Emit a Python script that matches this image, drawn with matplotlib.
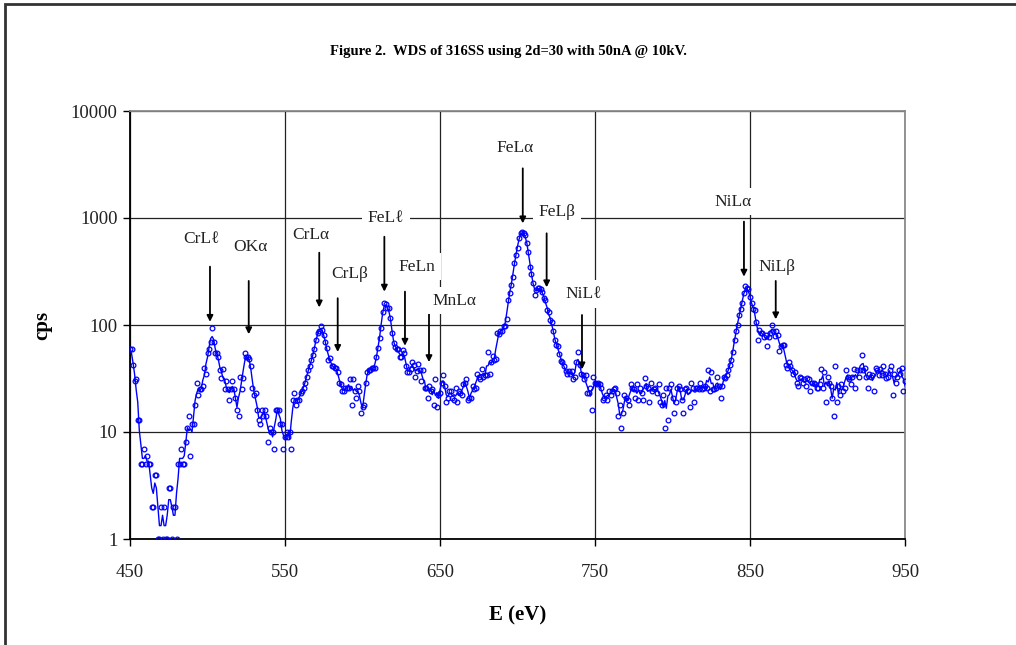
"""
plot.py: WDS spectrum of 316SS (2d=30, 50nA @ 10kV), log count rate vs energy.
Open circles are the measured points, the line is a short moving average.
"""

import numpy as np
import pandas as pd
import matplotlib
matplotlib.use("Agg")
import matplotlib.pyplot as plt
from matplotlib.patches import Rectangle
from matplotlib.ticker import NullLocator

plt.rcParams["font.family"] = ["Liberation Serif", "DejaVu Serif"]

# scan starts at 450 eV, 1 eV per step
E_START = 450

cps_450 = [
    60, 60, 42, 30, 31, 13, 13, 5, 5, 7,
    5, 6, 5, 5, 2, 2, 4, 4, 1, 1,
    2, 1, 2, 1, 1, 3, 3, 1, 2, 2,
    1, 5, 5, 7, 5, 5, 8, 11, 14, 6,
    12, 12, 18, 29, 22, 25, 25, 27, 40, 35,
    55, 60, 70, 94, 70, 55, 55, 50, 38, 32,
    39, 25, 30, 25, 20, 25, 30, 25, 21, 16,
    14, 33, 25, 32, 55, 50, 50, 48, 41, 26,
    22, 23, 16, 13, 12, 16, 14, 16, 14, 8,
    11, 10, 10, 7, 16, 16, 16, 12, 12, 7,
]
cps_550 = [
    9, 10, 9, 10, 7, 20, 23, 18, 20, 20,
    23, 24, 26, 29, 33, 38, 41, 47, 52, 60,
    72, 85, 87, 98, 90, 80, 69, 61, 47, 49,
    41, 41, 40, 40, 36, 29, 28, 24, 24, 26,
    26, 26, 31, 18, 31, 24, 21, 27, 24, 15,
    17, 18, 29, 36, 38, 38, 40, 40, 40, 50,
    61, 75, 93, 133, 161, 157, 144, 144, 116, 84,
    68, 62, 60, 60, 50, 50, 58, 55, 41, 36,
    36, 39, 45, 42, 33, 37, 43, 38, 30, 38,
    26, 26, 21, 27, 24, 25, 18, 31, 17, 22,
]
cps_650 = [
    23, 29, 34, 27, 19, 21, 24, 24, 21, 20,
    26, 19, 24, 23, 22, 28, 29, 31, 20, 21,
    21, 27, 25, 26, 35, 33, 31, 39, 33, 34,
    34, 56, 35, 45, 51, 47, 48, 84, 82, 87,
    87, 98, 98, 115, 171, 200, 236, 283, 377, 450,
    530, 650, 719, 745, 719, 693, 580, 484, 351, 300,
    249, 190, 212, 220, 220, 216, 205, 177, 171, 138,
    133, 111, 107, 87, 72, 65, 63, 54, 46, 45,
    41, 37, 35, 37, 35, 37, 31, 33, 45, 56,
    42, 35, 34, 31, 34, 23, 23, 26, 16, 33,
]
cps_750 = [
    29, 28, 29, 28, 26, 20, 21, 22, 20, 24,
    22, 24, 25, 26, 23, 14, 18, 11, 15, 22,
    21, 20, 18, 28, 26, 25, 21, 28, 20, 26,
    23, 20, 32, 27, 26, 19, 29, 24, 25, 26,
    23, 28, 19, 18, 22, 11, 26, 13, 26, 28,
    21, 15, 19, 26, 27, 25, 20, 15, 25, 26,
    24, 17, 29, 26, 19, 26, 26, 25, 29, 25,
    26, 27, 26, 38, 24, 36, 25, 25, 26, 33,
    27, 21, 27, 33, 32, 34, 38, 42, 47, 56,
    72, 87, 100, 124, 140, 160, 198, 231, 220, 216,
]
cps_850 = [
    181, 160, 140, 138, 107, 72, 90, 84, 85, 77,
    81, 64, 77, 85, 100, 88, 79, 88, 81, 57,
    64, 65, 65, 42, 40, 45, 41, 38, 35, 36,
    29, 27, 33, 32, 29, 31, 27, 32, 31, 24,
    29, 29, 28, 26, 26, 28, 39, 26, 36, 19,
    33, 29, 27, 21, 14, 41, 19, 27, 22, 28,
    24, 26, 38, 33, 31, 28, 33, 39, 26, 38,
    33, 38, 53, 38, 40, 33, 26, 35, 33, 34,
    24, 40, 38, 34, 39, 34, 41, 35, 32, 33,
    38, 41, 22, 35, 29, 33, 38, 35, 40, 24, 30,
]

# peak labels and their arrows (energy in eV, heights in cps)
peak_names = ["CrL\u2113", "OK\u03b1", "CrL\u03b1", "CrL\u03b2", "FeL\u2113", "FeLn",
              "MnL\u03b1", "FeL\u03b1", "FeL\u03b2", "NiL\u2113", "NiL\u03b1", "NiL\u03b2"]
label_e = [496.3, 527.4, 566.5, 591.9, 615.2, 635.0, 659.0, 698.4, 725.7, 742.5, 839.2, 867.6]
label_cps = [632, 540, 690, 300, 1000, 351, 168, 4480, 1130, 195, 1420, 351]
arrow_e = [501.6, 526.6, 572.1, 584.0, 614.1, 627.4, 642.9, 703.4, 718.8, 741.6, 846.1, 866.6]
arrow_from = [351, 258, 474, 178, 668, 205, 146, 2911, 719, 124, 925, 258]
arrow_to = [107, 82, 146, 56, 205, 64, 45, 891, 225, 38.5, 283, 113]

x_ticks = [450, 550, 650, 750, 850, 950]
y_ticks = [1, 10, 100, 1000, 10000]

TITLE = "Figure 2.  WDS of 316SS using 2d=30 with 50nA @ 10kV."


def main():
    cps = np.array(cps_450 + cps_550 + cps_650 + cps_750 + cps_850, dtype=float)
    energy = E_START + np.arange(len(cps))
    trend = pd.Series(cps).rolling(3, center=True, min_periods=1).mean()

    W, H = 1016, 645
    fig = plt.figure(figsize=(W / 100, H / 100), dpi=100)
    ax = fig.add_axes([130 / W, 1 - 539 / H, 775 / W, 428 / H])

    ax.plot(energy, trend, color="#0000ff", lw=1.0, zorder=3)
    ax.plot(energy, cps, ls="none", marker="o", ms=3.4, mfc="none",
            mec="#0000ff", mew=0.9, zorder=4)

    ax.set_yscale("log")
    ax.set_xlim(450, 950)
    ax.set_ylim(1, 10000)
    ax.set_xticks(x_ticks)
    ax.set_xticklabels([str(v) for v in x_ticks])
    ax.set_yticks(y_ticks)
    ax.set_yticklabels([str(v) for v in y_ticks])
    ax.yaxis.set_minor_locator(NullLocator())
    ax.tick_params(axis="both", direction="out", labelsize=13.5, colors="black",
                   labelcolor="#222222")
    ax.tick_params(axis="x", length=5, width=1, pad=13)
    ax.tick_params(axis="y", length=5, width=1, pad=4)

    ax.grid(True, color="#222222", lw=0.9)
    ax.set_axisbelow(True)
    for side in ("left", "bottom"):
        ax.spines[side].set_color("black")
        ax.spines[side].set_linewidth(1.3)
    for side in ("top", "right"):
        ax.spines[side].set_color("#8a8a8a")
        ax.spines[side].set_linewidth(1.3)

    for name, lx, ly, ax_e, a0, a1 in zip(peak_names, label_e, label_cps,
                                          arrow_e, arrow_from, arrow_to):
        ax.annotate("", xy=(ax_e, a1), xytext=(ax_e, a0),
                    arrowprops=dict(arrowstyle="-|>", color="black", lw=1.3,
                                    mutation_scale=9, shrinkA=0, shrinkB=0),
                    zorder=5)
        ax.text(lx, ly, name, ha="center", va="center", fontsize=12.5,
                color="#222222", zorder=6,
                bbox=dict(boxstyle="square,pad=0.32", fc="white", ec="none"))

    ax.set_xlabel("E (eV)", fontsize=15, fontweight="bold")
    ax.set_ylabel("cps", fontsize=15, fontweight="bold")
    ax.xaxis.set_label_coords(0.5, -0.155)
    ax.yaxis.set_label_coords(-0.1, 0.5)

    fig.text(0.5, 1 - 52 / H, TITLE, ha="center", va="center",
             fontsize=10.5, fontweight="bold")

    # chart-area border, only left and top edges fall inside the image
    fig.add_artist(Rectangle((5 / W, -0.2), 2.0, 1.2 - 4 / H,
                             transform=fig.transFigure, fill=False,
                             ec="#333333", lw=2, clip_on=False))

    fig.savefig("out.png", dpi=100)
    plt.close(fig)


if __name__ == "__main__":
    main()
